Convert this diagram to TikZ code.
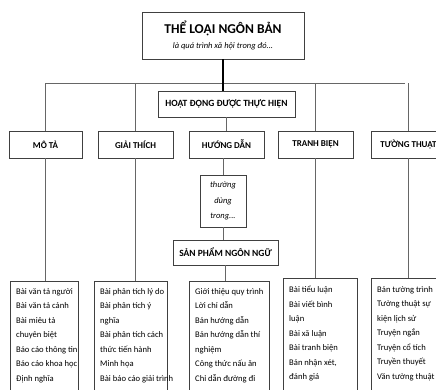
\documentclass[tikz,border=0pt]{standalone}
\usepackage{fontspec}
\setmainfont{Carlito}
\usetikzlibrary{positioning}

\begin{document}
\begin{tikzpicture}[
    x=1pt, y=-1pt,
    box/.style={draw=black!75, line width=0.8pt, align=center, inner sep=0pt},
    head/.style={box, minimum width=75pt, minimum height=27pt, font=\fontsize{9}{11}\selectfont\bfseries},
    listbox/.style={draw=black!75, line width=0.8pt, anchor=north west, minimum height=130pt, inner sep=0pt},
    listtext/.style={anchor=north west, align=left, inner sep=0pt, font=\fontsize{8.6}{14.5}\selectfont},
    link/.style={draw=black!60, line width=0.8pt},
    trunk/.style={draw=black, line width=1.8pt}
]
\useasboundingbox (0,0) rectangle (436,389);
\clip (0,0) rectangle (436,389);

% top
\node[box, minimum width=162pt, minimum height=47pt] (title) at (223,35.5)
    {\fontsize{13.5}{16}\selectfont\bfseries THỂ LOẠI NGÔN BẢN\\[3pt]
     \fontsize{8.5}{10}\selectfont\itshape là quá trình xã hội trong đó...};
\node[box, minimum width=137pt, minimum height=26pt, font=\fontsize{9.5}{11}\selectfont\bfseries] (hoat) at (226.5,104) {HOẠT ĐỘNG ĐƯỢC THỰC HIỆN};

% activities
\node[head, minimum width=73pt] (mota) at (45.5,144.5) {MÔ TẢ};
\node[head] (giai) at (135.5,144.5) {GIẢI THÍCH};
\node[head] (huong) at (226.5,144.5) {HƯỚNG DẪN};
\node[head] (tranh) at (315.5,144.5) {TRANH BIỆN};
\node[head] (tuong) at (408.5,144.5) {TƯỜNG THUẬT};

\node[box, minimum width=46pt, minimum height=52pt, font=\fontsize{8.5}{15.5}\selectfont\itshape] (thuong) at (223,201) {thường\\dùng\\trong...};
\node[box, minimum width=105pt, minimum height=25pt, font=\fontsize{9.5}{11}\selectfont\bfseries] (sanpham) at (225.5,252.5) {SẢN PHẨM NGÔN NGỮ};

% products
\node[listbox, minimum width=68pt] (l1) at (10,281) {};
\node[listbox, minimum width=73pt] (l2) at (94,281) {};
\node[listbox, minimum width=80pt] (l3) at (189,281) {};
\node[listbox, minimum width=74pt] (l4) at (283,278) {};
\node[listbox, minimum width=79pt] (l5) at (371,278) {};

\node[listtext] (t1) at ([xshift=6pt, yshift=-7pt]l1.north west)
    {Bài văn tả người\\Bài văn tả cảnh\\Bài miêu tả\\chuyên biệt\\Báo cáo thông tin\\Báo cáo khoa học\\Định nghĩa};
\node[listtext] (t2) at ([xshift=6pt, yshift=-7pt]l2.north west)
    {Bài phân tích lý do\\Bài phân tích ý\\nghĩa\\Bài phân tích cách\\thức tiến hành\\Minh họa\\Bài báo cáo giải trình};
\node[listtext] (t3) at ([xshift=6pt, yshift=-7pt]l3.north west)
    {Giới thiệu quy trình\\Lời chỉ dẫn\\Bản hướng dẫn\\Bản hướng dẫn thí\\nghiệm\\Công thức nấu ăn\\Chỉ dẫn đường đi};
\node[listtext] (t4) at ([xshift=6pt, yshift=-8pt]l4.north west)
    {Bài tiểu luận\\Bài viết bình\\luận\\Bài xã luận\\Bài tranh biện\\Bản nhận xét,\\đánh giá};
\node[listtext] (t5) at ([xshift=6pt, yshift=-8pt]l5.north west)
    {Bản tường trình\\Tường thuật sự\\kiện lịch sử\\Truyện ngắn\\Truyện cổ tích\\Truyền thuyết\\Văn tường thuật};

% connectors
\coordinate (busL) at (45,83);
\coordinate (busR) at (405,83);
\draw[link] (busL) -- (busR);
\draw[trunk] (title.south) -- (title.south |- hoat.north);
\draw[link] (mota.north) -- (mota.north |- busL);
\draw[link] (giai.north) -- (giai.north |- busL);
\draw[link] (tranh.north) -- (tranh.north |- busL);
\draw[link] (tuong.north) -- (tuong.north |- busL);
\draw[link] (hoat.south) -- (huong.north);
\draw[link] (thuong.north) -- (thuong.north |- huong.south);
\draw[link] (thuong.south) -- (thuong.south |- sanpham.north);
\draw[link] (mota.south) -- (mota.south |- l1.north);
\draw[link] (giai.south) -- (giai.south |- l2.north);
\draw[link] (sanpham.south) -- (sanpham.south |- l3.north);
\draw[link] (tranh.south) -- (tranh.south |- l4.north);
\draw[link] (tuong.south) -- (tuong.south |- l5.north);
\end{tikzpicture}
\end{document}
